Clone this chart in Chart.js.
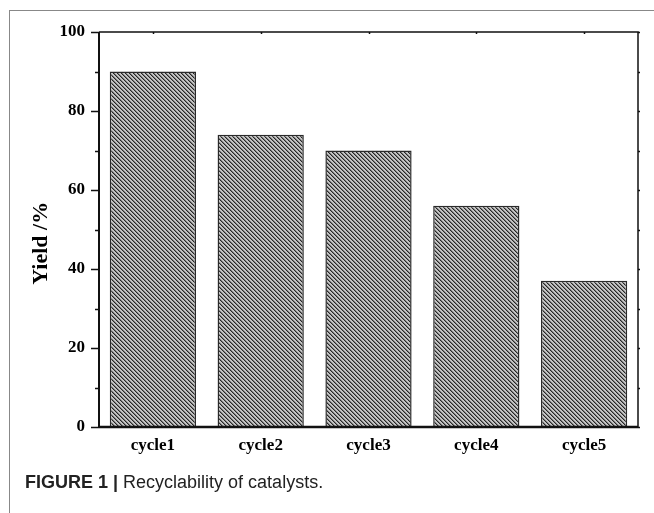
<!DOCTYPE html>
<html>
<head>
<meta charset="utf-8">
<script src="https://cdn.jsdelivr.net/npm/chart.js@4"></script>
<style>
  body { margin: 0; background: #fff; }
  #wrap { position: absolute; left: 0; top: 0; width: 654px; height: 513px; }
  #frameTop { position: absolute; left: 9px; top: 10px; width: 645px; height: 0; border-top: 1.5px solid #888; }
  #frameLeft { position: absolute; left: 9px; top: 10px; width: 0; height: 503px; border-left: 1.5px solid #888; }
  #caption { position: absolute; left: 25px; top: 472px; font: 18px "Liberation Sans", Arial, sans-serif; color: #222; white-space: nowrap; }
  #caption b { font-weight: bold; }
</style>
</head>
<body>
<div id="wrap"><canvas id="chart" width="654" height="513"></canvas></div>
<div id="frameTop"></div>
<div id="frameLeft"></div>
<div id="caption"><b>FIGURE 1 | </b>Recyclability of catalysts.</div>
<script>
// data
var categories = ['cycle1', 'cycle2', 'cycle3', 'cycle4', 'cycle5'];
var yieldValues = [90, 74, 70, 56, 37];
var yLabelTicks = [0, 20, 40, 60, 80, 100];

var serif = '"Liberation Serif", "Times New Roman", serif';

// grey fill with dark "\" hatch, 4px period, drawn per pixel so it stays crisp
function makeHatch() {
    var n = 4;
    var shades = ['#262626', '#7a7a7a', '#c4c4c4', '#c4c4c4'];
    var c = document.createElement('canvas');
    c.width = n; c.height = n;
    var g = c.getContext('2d');
    for (var y = 0; y < n; y++) {
        for (var x = 0; x < n; x++) {
            g.fillStyle = shades[(x - y + n) % n];
            g.fillRect(x, y, 1, 1);
        }
    }
    return g.createPattern(c, 'repeat');
}

var ctx = document.getElementById('chart').getContext('2d');

// draws the frame lines and tick marks from the scales
var axisFrame = {
    id: 'axisFrame',
    afterDatasetsDraw: function(chart) {
        var a = chart.chartArea;
        var ys = chart.scales.y, xs = chart.scales.x;
        var c = chart.ctx;
        c.save();
        c.strokeStyle = '#111';
        // top + right
        c.lineWidth = 1.5;
        c.beginPath();
        c.moveTo(a.left, a.top); c.lineTo(a.right, a.top); c.lineTo(a.right, a.bottom);
        c.stroke();
        // left
        c.lineWidth = 2;
        c.beginPath();
        c.moveTo(a.left, a.top); c.lineTo(a.left, a.bottom + 1);
        c.stroke();
        // bottom
        c.lineWidth = 2.5;
        c.beginPath();
        c.moveTo(a.left, a.bottom); c.lineTo(a.right, a.bottom);
        c.stroke();
        // y ticks
        c.lineWidth = 1.5;
        ys.ticks.forEach(function(t) {
            var py = Math.round(ys.getPixelForValue(t.value)) + 0.5;
            var major = yLabelTicks.indexOf(t.value) >= 0;
            c.beginPath();
            c.moveTo(a.left - (major ? 8 : 4), py); c.lineTo(a.left, py);
            c.moveTo(a.right, py); c.lineTo(a.right + 2, py);
            c.stroke();
        });
        // top ticks at category centres
        categories.forEach(function(cat, i) {
            var px = Math.round(xs.getPixelForValue(i)) + 0.5;
            c.beginPath();
            c.moveTo(px, a.top); c.lineTo(px, a.top + 2);
            c.stroke();
        });
        c.restore();
    }
};

new Chart(ctx, {
    type: 'bar',
    data: {
        labels: categories,
        datasets: [{
            data: yieldValues,
            backgroundColor: makeHatch(),
            borderColor: '#2a2a2a',
            borderWidth: 1.5,
            barPercentage: 0.8,
            categoryPercentage: 1.0
        }]
    },
    options: {
        responsive: false,
        animation: false,
        layout: { padding: { top: 32, right: 16, left: 0, bottom: 0 } },
        plugins: { legend: { display: false }, tooltip: { enabled: false } },
        scales: {
            x: {
                grid: { display: false },
                border: { display: false },
                ticks: { color: '#000', padding: 0, font: { family: serif, size: 17, weight: 'bold' } },
                afterFit: function(s) { s.height = 86; }
            },
            y: {
                min: 0, max: 100,
                grid: { display: false },
                border: { display: false },
                ticks: {
                    stepSize: 10, autoSkip: false, color: '#000', padding: 6,
                    font: { family: serif, size: 17, weight: 'bold' },
                    callback: function(v) { return yLabelTicks.indexOf(v) >= 0 ? String(v) : ''; }
                },
                title: {
                    // trailing spaces push the rotated title down a little, as in the figure
                    display: true, text: 'Yield /%\u00a0\u00a0\u00a0\u00a0\u00a0', color: '#000', padding: { top: 28, bottom: 0 },
                    font: { family: serif, size: 22, weight: 'bold' }
                },
                afterFit: function(s) { s.width = 99; }
            }
        }
    },
    plugins: [axisFrame]
});
</script>
</body>
</html>
